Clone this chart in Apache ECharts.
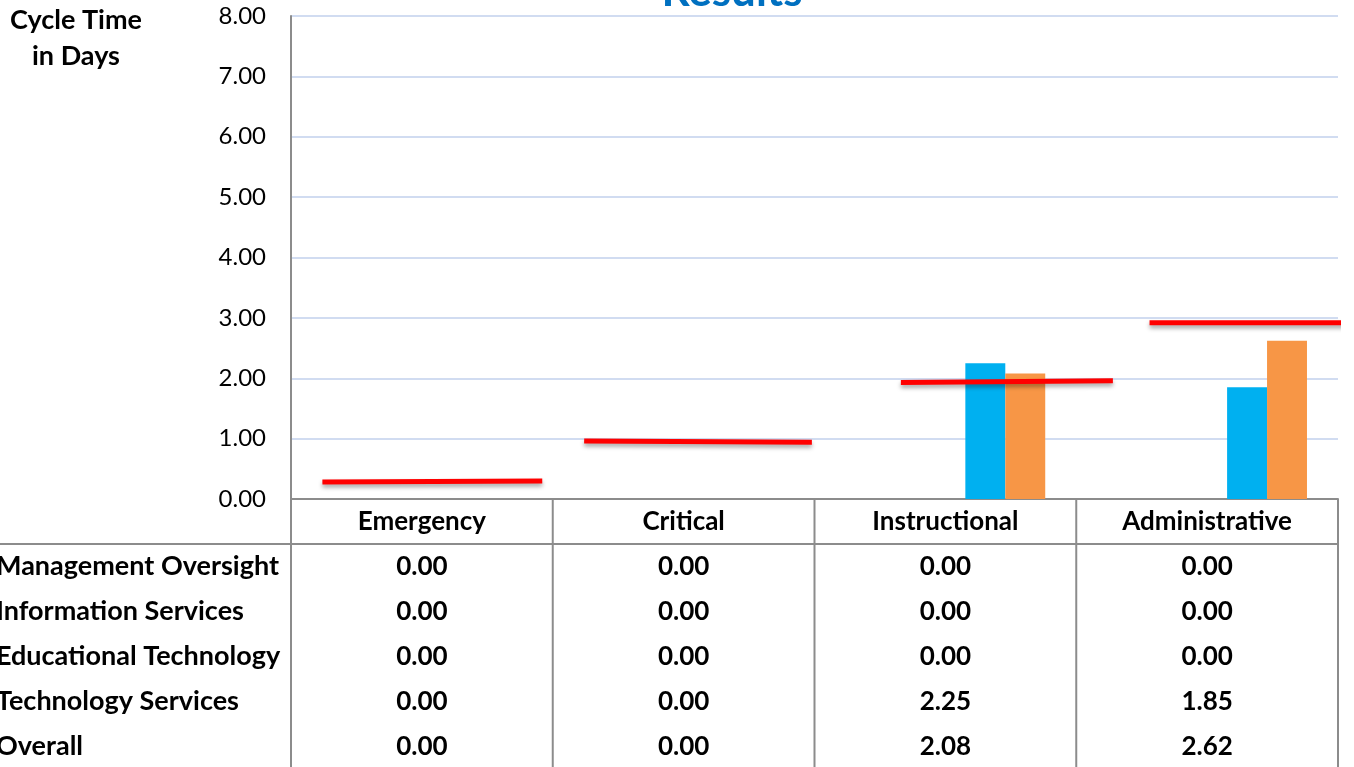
<!DOCTYPE html>
<html>
<head>
<meta charset="utf-8">
<script src="https://cdn.jsdelivr.net/npm/echarts@6/dist/echarts.min.js"></script>
<style>
  html, body { margin: 0; padding: 0; background: #fff; }
  #main { width: 1354px; height: 767px; }
</style>
</head>
<body>
<div id="main"></div>
<script>
// categories and series
var categories = ['Emergency', 'Critical', 'Instructional', 'Administrative']
var seriesNames = ['Management Oversight', 'Information Services', 'Educational Technology', 'Technology Services', 'Overall']
var mgmtOversight = [0.00, 0.00, 0.00, 0.00]
var infoServices = [0.00, 0.00, 0.00, 0.00]
var eduTechnology = [0.00, 0.00, 0.00, 0.00]
var techServices = [0.00, 0.00, 2.25, 1.85]
var overall = [0.00, 0.00, 2.08, 2.62]
var seriesColors = ['#4F81BD', '#C0504D', '#9BBB59', '#00B0F0', '#F79646']
var yTicks = [0, 1, 2, 3, 4, 5, 6, 7, 8]

// red target segments: [x in category units, value] start / end
var targetStart = [[0.12, 0.28], [1.12, 0.96], [2.33, 1.93], [3.28, 2.92]]
var targetEnd = [[0.96, 0.30], [1.99, 0.94], [3.14, 1.96], [4.03, 2.92]]

var allValues = [mgmtOversight, infoServices, eduTechnology, techServices, overall]

function drawChart () {
  var FONT = 'Lato'
  var chart = echarts.init(document.getElementById('main'))

  var series = []
  seriesNames.forEach(function (name, i) {
    series.push({
      name: name,
      type: 'bar',
      xAxisIndex: 0,
      barGap: '0%',
      barCategoryGap: '23.7%',
      itemStyle: { color: seriesColors[i] },
      data: allValues[i]
    })
  })
  targetStart.forEach(function (s, i) {
    series.push({
      name: 'Target ' + categories[i],
      type: 'line',
      xAxisIndex: 1,
      clip: false,
      symbol: 'none',
      z: 5,
      lineStyle: {
        color: '#FF0000',
        width: 5,
        shadowColor: 'rgba(0,0,0,0.35)',
        shadowBlur: 4,
        shadowOffsetY: 3
      },
      data: [s, targetEnd[i]]
    })
  })

  var option = {
    animation: false,
    textStyle: { fontFamily: FONT },
    grid: { left: 291, right: 16, top: 16, bottom: 268 },
    xAxis: [
      {
        type: 'category',
        data: categories,
        axisLine: { lineStyle: { color: '#8C8C8C', width: 2 } },
        axisTick: { show: false },
        axisLabel: {
          color: '#000',
          fontFamily: FONT,
          fontWeight: 'bold',
          fontSize: 26,
          margin: 10,
          interval: 0
        }
      },
      {
        type: 'value',
        min: 0,
        max: 4,
        show: false
      }
    ],
    yAxis: {
      type: 'value',
      min: yTicks[0],
      max: yTicks[yTicks.length - 1],
      interval: 1,
      axisLine: { show: true, lineStyle: { color: '#8C8C8C', width: 2 } },
      axisTick: { show: false },
      axisLabel: {
        color: '#000',
        fontFamily: FONT,
        fontSize: 24,
        margin: 25,
        formatter: function (v) { return v.toFixed(2) }
      },
      splitLine: { lineStyle: { color: '#C2D1EC', width: 1.5 } }
    },
    series: series
  }
  chart.setOption(option)

  // data table below the plot + titles
  var graphics = []
  var tableTop = 499
  var rowH = 45
  var bottomY = 767
  var lineColor = '#8C8C8C'
  for (var b = 0; b <= categories.length; b++) {
    var bx = chart.convertToPixel({ xAxisIndex: 1 }, b)
    graphics.push({
      type: 'line',
      shape: { x1: bx, y1: tableTop, x2: bx, y2: bottomY + 5 },
      style: { stroke: lineColor, lineWidth: 2 }
    })
  }
  graphics.push({
    type: 'line',
    shape: { x1: 0, y1: tableTop + rowH, x2: chart.convertToPixel({ xAxisIndex: 1 }, 4), y2: tableTop + rowH },
    style: { stroke: lineColor, lineWidth: 2 }
  })
  seriesNames.forEach(function (name, r) {
    var cy = tableTop + rowH * (r + 1) + rowH / 2
    graphics.push({
      type: 'text',
      x: -4,
      y: cy,
      style: {
        text: name,
        font: 'bold 27px ' + FONT,
        fill: '#000',
        textAlign: 'left',
        textVerticalAlign: 'middle'
      }
    })
    allValues[r].forEach(function (v, c) {
      graphics.push({
        type: 'text',
        x: chart.convertToPixel({ xAxisIndex: 0 }, categories[c]),
        y: cy,
        style: {
          text: v.toFixed(2),
          font: 'bold 26px ' + FONT,
          fill: '#000',
          textAlign: 'center',
          textVerticalAlign: 'middle'
        }
      })
    })
  })
  graphics.push({
    type: 'text',
    x: 76,
    y: 38,
    style: {
      text: 'Cycle Time\nin Days',
      font: 'bold 27px ' + FONT,
      lineHeight: 36,
      fill: '#000',
      textAlign: 'center',
      textVerticalAlign: 'middle'
    }
  })
  graphics.push({
    type: 'text',
    x: 732,
    y: -8,
    style: {
      text: 'Results',
      font: 'bold 44px ' + FONT,
      fill: '#0070C0',
      textAlign: 'center',
      textVerticalAlign: 'middle'
    }
  })
  chart.setOption({ graphic: graphics })
}

drawChart()
</script>
</body>
</html>
